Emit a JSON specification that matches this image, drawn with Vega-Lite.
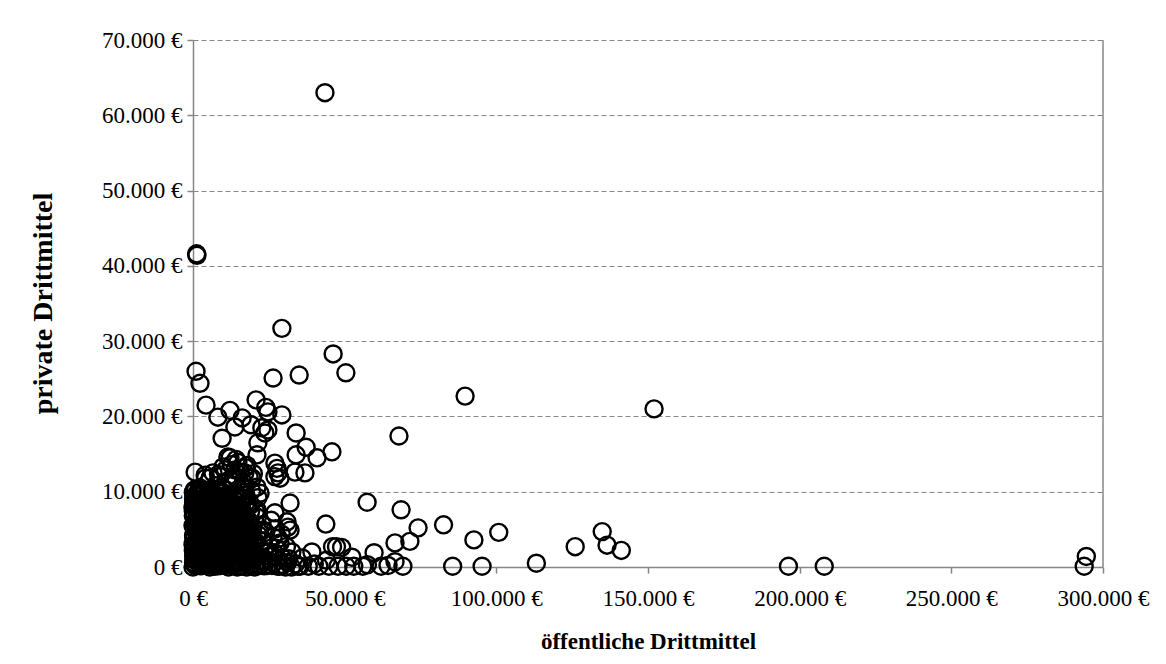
{
  "$schema": "https://vega.github.io/schema/vega-lite/v6.json",
  "width": 910,
  "height": 527,
  "autosize": {"type": "none"},
  "padding": {"left": 193, "top": 40, "right": 63, "bottom": 97},
  "background": "white",
  "config": {"view": {"stroke": null}, "font": "Liberation Serif"},
  "layer": [
    {
      "data": {"values": [{}]},
      "mark": {"type": "rule", "color": "#868686", "strokeWidth": 1.5},
      "encoding": {"x": {"datum": 300000, "type": "quantitative", "scale": {"domain": [0, 300000], "nice": false}}}
    },
    {
      "data": {"values": [
        {"o":43500,"p":63000},{"o":1300,"p":41400},{"o":1200,"p":41600},{"o":29300,"p":31700},{"o":1000,"p":26000},
        {"o":2300,"p":24400},{"o":46200,"p":28300},{"o":26400,"p":25100},{"o":35000,"p":25500},{"o":50400,"p":25800},
        {"o":89700,"p":22700},{"o":152000,"p":21000},{"o":4300,"p":21500},{"o":20800,"p":22200},{"o":8200,"p":19900},
        {"o":12200,"p":20800},{"o":16200,"p":19800},{"o":24000,"p":21200},{"o":24700,"p":20600},{"o":29300,"p":20200},
        {"o":13800,"p":18600},{"o":19100,"p":18900},{"o":22700,"p":18500},{"o":23700,"p":17800},{"o":24700,"p":18200},
        {"o":9600,"p":17100},{"o":21400,"p":16500},{"o":34000,"p":17800},{"o":67900,"p":17400},{"o":37300,"p":15900},
        {"o":40900,"p":14500},{"o":45800,"p":15300},{"o":34000,"p":14900},{"o":36900,"p":12500},{"o":33600,"p":12600},
        {"o":700,"p":12600},{"o":4000,"p":12200},{"o":6600,"p":12500},{"o":5600,"p":11800},{"o":12200,"p":14500},
        {"o":14800,"p":13900},{"o":17800,"p":13500},{"o":9900,"p":13300},{"o":13800,"p":12900},{"o":17100,"p":12500},
        {"o":8900,"p":12000},{"o":19500,"p":11800},{"o":13200,"p":11300},{"o":21100,"p":10600},{"o":17100,"p":10600},
        {"o":27000,"p":13800},{"o":27700,"p":13100},{"o":28000,"p":12500},{"o":28700,"p":11800},{"o":27000,"p":12000},
        {"o":21100,"p":14900},{"o":22100,"p":9800},{"o":21400,"p":9200},{"o":32000,"p":8500},{"o":31000,"p":6000},
        {"o":31300,"p":5300},{"o":32000,"p":4900},{"o":27000,"p":7200},{"o":43800,"p":5700},{"o":57400,"p":8600},
        {"o":21100,"p":7600},{"o":23100,"p":4900},{"o":18800,"p":4900},{"o":26400,"p":4000},{"o":28700,"p":3200},
        {"o":46000,"p":2700},{"o":47300,"p":2700},{"o":49000,"p":2600},{"o":32600,"p":2000},{"o":39200,"p":2000},
        {"o":59700,"p":1900},{"o":52400,"p":1300},{"o":68600,"p":7600},{"o":74200,"p":5200},{"o":71500,"p":3400},
        {"o":66600,"p":3200},{"o":82600,"p":5600},{"o":92600,"p":3600},{"o":100800,"p":4600},{"o":113200,"p":500},
        {"o":126000,"p":2700},{"o":134900,"p":4700},{"o":136500,"p":2900},{"o":141200,"p":2200},{"o":85600,"p":100},
        {"o":95300,"p":100},{"o":196300,"p":100},{"o":208100,"p":100},{"o":294500,"p":1400},{"o":293800,"p":100},
        {"o":35300,"p":100},{"o":38000,"p":100},{"o":41500,"p":100},{"o":44800,"p":100},{"o":47800,"p":100},
        {"o":53000,"p":100},{"o":56000,"p":100},{"o":62000,"p":100},{"o":64300,"p":200},{"o":69200,"p":100},
        {"o":66600,"p":700},{"o":36000,"p":1200},{"o":44000,"p":900},{"o":57500,"p":300},{"o":50500,"p":100},
        {"o":40000,"p":400},
        {"o":0,"p":0},{"o":500,"p":300},{"o":1000,"p":800},{"o":200,"p":1500},{"o":1500,"p":2000},
        {"o":800,"p":2700},{"o":2000,"p":3300},{"o":300,"p":4000},{"o":1200,"p":4600},{"o":2500,"p":5200},
        {"o":600,"p":5900},{"o":1800,"p":6500},{"o":400,"p":7200},{"o":2200,"p":7800},{"o":1000,"p":8500},
        {"o":200,"p":9100},{"o":1600,"p":9600},{"o":3000,"p":200},{"o":3500,"p":1100},{"o":2800,"p":1800},
        {"o":4000,"p":2500},{"o":3300,"p":3100},{"o":4500,"p":3800},{"o":3800,"p":4400},{"o":5000,"p":5100},
        {"o":4200,"p":5800},{"o":3100,"p":6400},{"o":5300,"p":7000},{"o":4600,"p":7700},{"o":3400,"p":8300},
        {"o":5800,"p":8800},{"o":4900,"p":9400},{"o":6000,"p":600},{"o":6500,"p":1400},{"o":5600,"p":2100},
        {"o":7000,"p":2900},{"o":6300,"p":3600},{"o":7500,"p":4200},{"o":6800,"p":4900},{"o":7800,"p":5600},
        {"o":6100,"p":6200},{"o":7300,"p":6900},{"o":6600,"p":7500},{"o":7900,"p":8200},{"o":2700,"p":9900},
        {"o":900,"p":10300},{"o":3900,"p":10000},{"o":5500,"p":0},{"o":7200,"p":100},{"o":2100,"p":500},
        {"o":4400,"p":1600},{"o":1300,"p":1200},{"o":2400,"p":2600},{"o":5100,"p":3300},{"o":1700,"p":3900},
        {"o":6900,"p":3200},{"o":2900,"p":4500},{"o":4800,"p":6600},{"o":100,"p":6800},{"o":2600,"p":7000},
        {"o":5900,"p":4400},{"o":7600,"p":7200},{"o":3700,"p":7400},{"o":1100,"p":5300},{"o":6400,"p":8600},
        {"o":7100,"p":9200},{"o":0,"p":3000},{"o":0,"p":5500},{"o":0,"p":8000},{"o":100,"p":9900},
        {"o":8000,"p":1000},{"o":8300,"p":3500},{"o":8100,"p":6100},{"o":8500,"p":9000},{"o":3200,"p":2200},
        {"o":4700,"p":400},{"o":1900,"p":8900},{"o":2300,"p":10500},{"o":6200,"p":10100},{"o":4100,"p":11800},
        {"o":7400,"p":10800},
        {"o":9000,"p":200},{"o":10500,"p":1000},{"o":12000,"p":400},{"o":13500,"p":1800},{"o":15000,"p":700},
        {"o":16500,"p":2200},{"o":18000,"p":1100},{"o":19500,"p":300},{"o":21000,"p":1500},{"o":9500,"p":2800},
        {"o":11000,"p":3500},{"o":12500,"p":2600},{"o":14000,"p":4100},{"o":15500,"p":3200},{"o":17000,"p":4600},
        {"o":18500,"p":3700},{"o":20000,"p":2900},{"o":21500,"p":4300},{"o":9200,"p":5100},{"o":10800,"p":6000},
        {"o":12300,"p":5400},{"o":13800,"p":6800},{"o":15300,"p":5700},{"o":16800,"p":7100},{"o":18300,"p":6200},
        {"o":19800,"p":5300},{"o":9800,"p":7500},{"o":11300,"p":8200},{"o":12800,"p":7600},{"o":14300,"p":8800},
        {"o":15800,"p":9200},{"o":11800,"p":9700},{"o":10200,"p":10400},{"o":13100,"p":10900},{"o":17400,"p":9600},
        {"o":19100,"p":8300},{"o":20600,"p":7400},{"o":8700,"p":4000},{"o":10000,"p":1900},{"o":11700,"p":0},
        {"o":14600,"p":0},{"o":16000,"p":100},{"o":17700,"p":0},{"o":20300,"p":0},{"o":22000,"p":200},
        {"o":13000,"p":3000},{"o":16200,"p":5100},{"o":18900,"p":4900},{"o":21200,"p":6600},{"o":9900,"p":9100},
        {"o":12100,"p":11600},{"o":14900,"p":10300},{"o":16600,"p":11200},{"o":19300,"p":10100},{"o":8400,"p":12300},
        {"o":10700,"p":12900},{"o":12700,"p":13600},{"o":14200,"p":14300},{"o":15600,"p":12600},{"o":17300,"p":13200},
        {"o":11500,"p":14600},{"o":13400,"p":12100},{"o":18500,"p":11900},{"o":19900,"p":12400},
        {"o":8800,"p":900},{"o":9600,"p":3900},{"o":10400,"p":5600},{"o":11200,"p":2300},{"o":12000,"p":4800},
        {"o":12900,"p":6300},{"o":13700,"p":900},{"o":14500,"p":2700},{"o":15200,"p":8100},{"o":16000,"p":3900},
        {"o":16900,"p":6000},{"o":17600,"p":8600},{"o":8900,"p":8400},{"o":11000,"p":7000},{"o":14000,"p":5200},
        {"o":17900,"p":2500},{"o":9300,"p":10000},{"o":10900,"p":4400},{"o":13300,"p":8300},{"o":15900,"p":1300},
        {"o":16400,"p":9900},{"o":14100,"p":6400},{"o":12400,"p":1600},{"o":10100,"p":8900},{"o":17200,"p":3100},
        {"o":22500,"p":800},{"o":23500,"p":2000},{"o":24500,"p":200},{"o":25500,"p":1400},{"o":26500,"p":500},
        {"o":27500,"p":2500},{"o":28500,"p":100},{"o":29500,"p":1200},{"o":23000,"p":3500},{"o":25000,"p":3000},
        {"o":26800,"p":1900},{"o":28200,"p":3800},{"o":29800,"p":300},{"o":30500,"p":0},{"o":31500,"p":1100},
        {"o":24000,"p":4600},{"o":22800,"p":5600},{"o":25800,"p":6200},{"o":27200,"p":5100},{"o":29100,"p":4400},
        {"o":32500,"p":0},{"o":33800,"p":400},{"o":34600,"p":100},{"o":30800,"p":2700},{"o":31200,"p":600},
        {"o":800,"p":200},{"o":2500,"p":150},{"o":4200,"p":250},{"o":6800,"p":200},{"o":8200,"p":150},
        {"o":10000,"p":250},{"o":13000,"p":200},{"o":15500,"p":150},{"o":18800,"p":200},{"o":21000,"p":250},
        {"o":23500,"p":150},{"o":26000,"p":200},{"o":27800,"p":100},
        {"o":300,"p":1000},{"o":2000,"p":1100},{"o":3800,"p":900},{"o":5300,"p":1000},{"o":7700,"p":1100},
        {"o":9400,"p":1000},{"o":11600,"p":900},{"o":14400,"p":1000},{"o":17000,"p":1100},{"o":19600,"p":1000},
        {"o":22800,"p":900},
        {"o":1000,"p":1800},{"o":2800,"p":1700},{"o":4800,"p":1900},{"o":6200,"p":1800},{"o":8600,"p":1700},
        {"o":10800,"p":1800},{"o":12800,"p":1900},{"o":15200,"p":1800},{"o":17900,"p":1700},{"o":20400,"p":1800},
        {"o":24800,"p":1900},
        {"o":500,"p":2600},{"o":3500,"p":2500},{"o":5500,"p":2700},{"o":7300,"p":2600},{"o":9000,"p":2500},
        {"o":11300,"p":2600},{"o":14600,"p":2700},{"o":16800,"p":2600},{"o":19000,"p":2500},{"o":22000,"p":2600},
        {"o":1400,"p":3400},{"o":2600,"p":3300},{"o":4600,"p":3500},{"o":7900,"p":3400},{"o":10200,"p":3300},
        {"o":12200,"p":3400},{"o":15600,"p":3500},{"o":18400,"p":3400},{"o":20700,"p":3300},
        {"o":200,"p":4200},{"o":2300,"p":4100},{"o":5600,"p":4300},{"o":8400,"p":4200},{"o":11400,"p":4100},
        {"o":13600,"p":4200},{"o":16400,"p":4300},{"o":19300,"p":4200},
        {"o":1700,"p":5000},{"o":3700,"p":4900},{"o":6500,"p":5100},{"o":9600,"p":5000},{"o":12700,"p":4900},
        {"o":14800,"p":5000},{"o":17700,"p":5100},
        {"o":600,"p":5800},{"o":2900,"p":5700},{"o":5200,"p":5900},{"o":7600,"p":5800},{"o":10500,"p":5700},
        {"o":13100,"p":5800},{"o":15900,"p":5900},{"o":18600,"p":5800},
        {"o":1500,"p":6600},{"o":4100,"p":6500},{"o":6900,"p":6700},{"o":9100,"p":6600},{"o":11900,"p":6500},
        {"o":14700,"p":6600},{"o":17300,"p":6700},
        {"o":100,"p":7400},{"o":2400,"p":7300},{"o":5700,"p":7500},{"o":8300,"p":7400},{"o":10900,"p":7300},
        {"o":13900,"p":7400},{"o":16200,"p":7500},{"o":19000,"p":7400},
        {"o":1200,"p":8200},{"o":3300,"p":8100},{"o":6300,"p":8300},{"o":9800,"p":8200},{"o":12400,"p":8100},
        {"o":15100,"p":8200},{"o":18100,"p":8300},
        {"o":400,"p":9000},{"o":2600,"p":8900},{"o":4400,"p":9100},{"o":7100,"p":9000},{"o":11100,"p":8900},
        {"o":13700,"p":9000},{"o":16700,"p":9100},
        {"o":1400,"p":9800},{"o":3600,"p":9700},{"o":5600,"p":9900},{"o":8700,"p":9800},{"o":14100,"p":9700},
        {"o":200,"p":600},{"o":1900,"p":650},{"o":3600,"p":550},{"o":5400,"p":600},{"o":7100,"p":650},
        {"o":8900,"p":550},{"o":10600,"p":600},{"o":12400,"p":650},{"o":14100,"p":550},{"o":15900,"p":600},{"o":17600,"p":650},
        {"o":1000,"p":1400},{"o":2700,"p":1450},{"o":4500,"p":1350},{"o":6200,"p":1400},{"o":8000,"p":1450},
        {"o":9700,"p":1350},{"o":11500,"p":1400},{"o":13200,"p":1450},{"o":15000,"p":1350},{"o":16700,"p":1400},{"o":18500,"p":1450},
        {"o":100,"p":2200},{"o":1800,"p":2250},{"o":3600,"p":2150},{"o":5300,"p":2200},{"o":7100,"p":2250},
        {"o":8800,"p":2150},{"o":10600,"p":2200},{"o":12300,"p":2250},{"o":14100,"p":2150},{"o":15800,"p":2200},{"o":17600,"p":2250},
        {"o":900,"p":3000},{"o":2600,"p":3050},{"o":4400,"p":2950},{"o":6100,"p":3000},{"o":7900,"p":3050},
        {"o":9600,"p":2950},{"o":11400,"p":3000},{"o":13100,"p":3050},{"o":14900,"p":2950},{"o":16600,"p":3000},{"o":18400,"p":3050},
        {"o":300,"p":3800},{"o":2000,"p":3850},{"o":3800,"p":3750},{"o":5500,"p":3800},{"o":7300,"p":3850},
        {"o":9000,"p":3750},{"o":10800,"p":3800},{"o":12500,"p":3850},{"o":14300,"p":3750},{"o":16000,"p":3800},{"o":17800,"p":3850},
        {"o":1100,"p":4600},{"o":2800,"p":4650},{"o":4600,"p":4550},{"o":6300,"p":4600},{"o":8100,"p":4650},
        {"o":9800,"p":4550},{"o":11600,"p":4600},{"o":13300,"p":4650},{"o":15100,"p":4550},{"o":16800,"p":4600},
        {"o":200,"p":5400},{"o":1900,"p":5450},{"o":3700,"p":5350},{"o":5400,"p":5400},{"o":7200,"p":5450},
        {"o":8900,"p":5350},{"o":10700,"p":5400},{"o":12400,"p":5450},{"o":14200,"p":5350},{"o":15900,"p":5400},
        {"o":1000,"p":6200},{"o":2700,"p":6250},{"o":4500,"p":6150},{"o":6200,"p":6200},{"o":8000,"p":6250},
        {"o":9700,"p":6150},{"o":11500,"p":6200},{"o":13200,"p":6250},{"o":15000,"p":6150},{"o":16700,"p":6200},
        {"o":300,"p":7000},{"o":2000,"p":7050},{"o":3800,"p":6950},{"o":5500,"p":7000},{"o":7300,"p":7050},
        {"o":9000,"p":6950},{"o":10800,"p":7000},{"o":12500,"p":7050},{"o":14300,"p":6950},
        {"o":1100,"p":7800},{"o":2800,"p":7850},{"o":4600,"p":7750},{"o":6300,"p":7800},{"o":8100,"p":7850},
        {"o":9800,"p":7750},{"o":11600,"p":7800},{"o":13300,"p":7850},{"o":15100,"p":7750},
        {"o":200,"p":8600},{"o":1900,"p":8650},{"o":3700,"p":8550},{"o":5400,"p":8600},{"o":7200,"p":8650},
        {"o":8900,"p":8550},{"o":10700,"p":8600},{"o":12400,"p":8650},
        {"o":1000,"p":9400},{"o":2700,"p":9450},{"o":4500,"p":9350},{"o":6200,"p":9400},{"o":8000,"p":9450},
        {"o":9700,"p":9350},{"o":11500,"p":9400},
        {"o":400,"p":10200},{"o":2000,"p":10250},{"o":3200,"p":10150},{"o":5000,"p":10200},{"o":7500,"p":10250}
      ]},
      "mark": {"type": "point", "shape": "circle", "filled": false, "stroke": "black", "strokeWidth": 2.4, "size": 290, "opacity": 1},
      "encoding": {
        "x": {
          "field": "o", "type": "quantitative",
          "scale": {"domain": [0, 300000], "nice": false},
          "axis": {
            "title": "öffentliche Drittmittel",
            "values": [0, 50000, 100000, 150000, 200000, 250000, 300000],
            "labelExpr": "replace(format(datum.value, ',d'), ',', '.') + ' €'",
            "grid": false,
            "domainColor": "#868686", "domainWidth": 1.5,
            "tickColor": "#868686", "tickSize": 6, "tickWidth": 1.5,
            "labelFont": "Liberation Serif", "labelFontSize": 23, "labelColor": "black", "labelPadding": 14, "labelFlush": false,
            "titleFont": "Liberation Serif", "titleFontSize": 23, "titleFontWeight": "bold", "titleColor": "black",
            "titleY": 74, "titleBaseline": "middle"
          }
        },
        "y": {
          "field": "p", "type": "quantitative",
          "scale": {"domain": [0, 70000], "nice": false},
          "axis": {
            "title": "private Drittmittel",
            "values": [0, 10000, 20000, 30000, 40000, 50000, 60000, 70000],
            "labelExpr": "replace(format(datum.value, ',d'), ',', '.') + ' €'",
            "grid": true, "gridColor": "#868686", "gridDash": [5, 3], "gridWidth": 1,
            "domainColor": "#868686", "domainWidth": 1.5,
            "tickColor": "#868686", "tickSize": 6, "tickWidth": 1.5,
            "labelFont": "Liberation Serif", "labelFontSize": 23, "labelColor": "black", "labelPadding": 5,
            "titleFont": "Liberation Serif", "titleFontSize": 28, "titleFontWeight": "bold", "titleColor": "black",
            "titleX": -150, "titleY": 263, "titleAngle": -90, "titleAlign": "center", "titleBaseline": "middle"
          }
        }
      }
    }
  ]
}
